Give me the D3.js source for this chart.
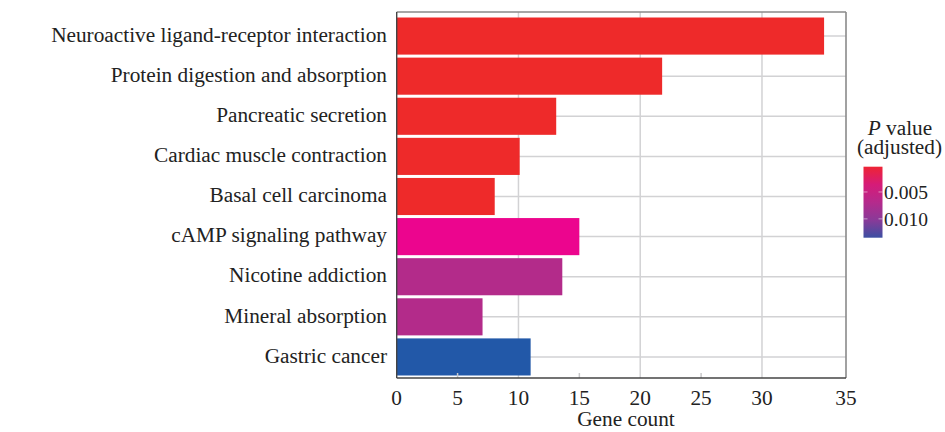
<!DOCTYPE html>
<html>
<head>
<meta charset="utf-8">
<script src="https://cdn.jsdelivr.net/npm/d3@7"></script>
<style>
  html, body { margin: 0; padding: 0; background: #fff; }
  svg { display: block; }
  text { font-family: "Liberation Serif", "Times New Roman", serif; fill: #222; }
</style>
</head>
<body>
<svg id="chart" width="945" height="432"></svg>
<script>
// ---- data ----
const categories = [
  "Neuroactive ligand-receptor interaction",
  "Protein digestion and absorption",
  "Pancreatic secretion",
  "Cardiac muscle contraction",
  "Basal cell carcinoma",
  "cAMP signaling pathway",
  "Nicotine addiction",
  "Mineral absorption",
  "Gastric cancer"
];
const geneCounts = [35.1, 21.8, 13.1, 10.1, 8.05, 15, 13.6, 7.05, 11];
const barColors = ["#EE2A2A", "#EE2A2A", "#EE2A2A", "#EE2A2A", "#EE2A2A",
                   "#EC058E", "#B32B8A", "#B32B8A", "#2258A8"];
const xTickValues = [0, 5, 10, 15, 20, 25, 30, 36.9];
const xTickLabels = ["0", "5", "10", "15", "20", "25", "30", "35"];
const xGridValues = [10, 20, 30];
const xMinorValues = [5, 15, 25];
const legendTickValues = [0.005, 0.010];
const legendTickLabels = ["0.005", "0.010"];
const legendDomain = [0.0003, 0.0135];
const legendStops = ["#EE2434", "#D61B78", "#B52A8C", "#8A3A98", "#3C4FA2"];

// ---- layout ----
const svg = d3.select("#chart");
const plot = { left: 396.7, right: 846, top: 12, bottom: 378 };
const FS = 21.3;

const x = d3.scaleLinear().domain([0, 36.9]).range([plot.left, plot.right]);
const y = d3.scaleBand().domain(categories).range([16, 377])
  .paddingInner(0.075).paddingOuter(0.0375);

// horizontal gridlines at category centres
svg.append("g").selectAll("line").data(categories).join("line")
  .attr("x1", plot.left).attr("x2", plot.right)
  .attr("y1", d => y(d) + y.bandwidth() / 2)
  .attr("y2", d => y(d) + y.bandwidth() / 2)
  .attr("stroke", "#d2d2d4").attr("stroke-width", 1.5);

// vertical gridlines
svg.append("g").selectAll("line").data(xGridValues).join("line")
  .attr("x1", d => x(d)).attr("x2", d => x(d))
  .attr("y1", plot.top).attr("y2", plot.bottom)
  .attr("stroke", "#d2d2d4").attr("stroke-width", 1.5);

// bars
svg.append("g").selectAll("rect").data(categories).join("rect")
  .attr("x", x(0))
  .attr("y", d => y(d))
  .attr("width", (d, i) => x(geneCounts[i]) - x(0))
  .attr("height", y.bandwidth())
  .attr("fill", (d, i) => barColors[i]);

// minor ticks on bottom
svg.append("g").selectAll("line").data(xMinorValues).join("line")
  .attr("x1", d => x(d)).attr("x2", d => x(d))
  .attr("y1", plot.bottom - 5).attr("y2", plot.bottom)
  .attr("stroke", "#c8c8ca").attr("stroke-width", 1.5);

// frame
svg.append("line").attr("x1", plot.left).attr("x2", plot.right)
  .attr("y1", plot.top).attr("y2", plot.top)
  .attr("stroke", "#8a8a8a").attr("stroke-width", 1.6);
svg.append("line").attr("x1", plot.right).attr("x2", plot.right)
  .attr("y1", plot.top).attr("y2", plot.bottom)
  .attr("stroke", "#8a8a8a").attr("stroke-width", 1.6);
svg.append("line").attr("x1", plot.left).attr("x2", plot.right)
  .attr("y1", plot.bottom).attr("y2", plot.bottom)
  .attr("stroke", "#444").attr("stroke-width", 1.4);
svg.append("line").attr("x1", plot.left).attr("x2", plot.left)
  .attr("y1", plot.top).attr("y2", plot.bottom)
  .attr("stroke", "#444").attr("stroke-width", 1.4);

// category labels
svg.append("g").selectAll("text").data(categories).join("text")
  .attr("x", 387)
  .attr("y", d => y(d) + y.bandwidth() / 2)
  .attr("dy", "0.27em")
  .attr("text-anchor", "end")
  .attr("font-size", FS)
  .text(d => d);

// x tick labels
svg.append("g").selectAll("text").data(xTickValues).join("text")
  .attr("x", d => x(d))
  .attr("y", 398)
  .attr("dy", "0.35em")
  .attr("text-anchor", "middle")
  .attr("font-size", FS)
  .text((d, i) => xTickLabels[i]);

svg.append("text")
  .attr("x", 626).attr("y", 419).attr("dy", "0.35em")
  .attr("text-anchor", "middle").attr("font-size", FS)
  .text("Gene count");

// legend
const defs = svg.append("defs");
const grad = defs.append("linearGradient").attr("id", "pgrad")
  .attr("x1", 0).attr("y1", 0).attr("x2", 0).attr("y2", 1);
legendStops.forEach((c, i) => grad.append("stop")
  .attr("offset", i / (legendStops.length - 1)).attr("stop-color", c));

const lg = { x: 863.5, w: 19, top: 166.7, bottom: 237.7 };
const ly = d3.scaleLinear().domain(legendDomain).range([lg.top, lg.bottom]);

svg.append("rect").attr("x", lg.x).attr("y", lg.top)
  .attr("width", lg.w).attr("height", lg.bottom - lg.top)
  .attr("fill", "url(#pgrad)");

svg.append("g").selectAll("line").data(legendTickValues).join("line")
  .attr("x1", lg.x + lg.w - 4).attr("x2", lg.x + lg.w)
  .attr("y1", d => ly(d)).attr("y2", d => ly(d))
  .attr("stroke", "#ffffff").attr("stroke-opacity", 0.5).attr("stroke-width", 1);
svg.append("g").selectAll("line").data(legendTickValues).join("line")
  .attr("x1", lg.x).attr("x2", lg.x + 4)
  .attr("y1", d => ly(d)).attr("y2", d => ly(d))
  .attr("stroke", "#ffffff").attr("stroke-opacity", 0.5).attr("stroke-width", 1);

svg.append("g").selectAll("text").data(legendTickValues).join("text")
  .attr("x", lg.x + lg.w + 1.5)
  .attr("y", d => ly(d))
  .attr("dy", "0.35em")
  .attr("font-size", 19.5)
  .text((d, i) => legendTickLabels[i]);

const t1 = svg.append("text").attr("x", 900).attr("y", 128).attr("dy", "0.35em")
  .attr("text-anchor", "middle").attr("font-size", FS);
t1.append("tspan").attr("font-style", "italic").text("P");
t1.append("tspan").text(" value");
svg.append("text").attr("x", 899.5).attr("y", 147).attr("dy", "0.35em")
  .attr("text-anchor", "middle").attr("font-size", FS)
  .text("(adjusted)");
</script>
</body>
</html>
